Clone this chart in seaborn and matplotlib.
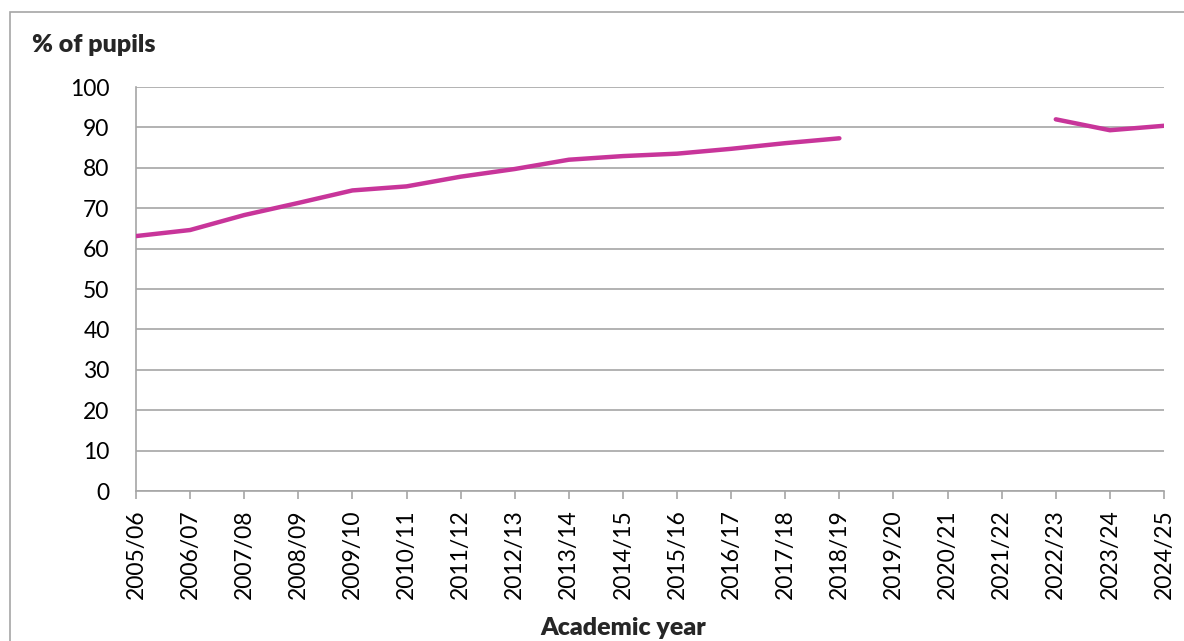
import numpy as np
import pandas as pd
import matplotlib
matplotlib.use("Agg")
import matplotlib.pyplot as plt
import seaborn as sns
from matplotlib.patches import Rectangle

# Data
years = ["2005/06", "2006/07", "2007/08", "2008/09", "2009/10", "2010/11",
         "2011/12", "2012/13", "2013/14", "2014/15", "2015/16", "2016/17",
         "2017/18", "2018/19", "2019/20", "2020/21", "2021/22", "2022/23",
         "2023/24", "2024/25"]
pct_pupils = [63.1, 64.6, 68.3, 71.3, 74.4, 75.4, 77.8, 79.7, 82.0, 82.9,
              83.5, 84.7, 86.1, 87.3, np.nan, np.nan, np.nan, 92.0, 89.3, 90.4]

LINE_COL = "#C8359A"
GRID_COL = "#A6A6A6"

df = pd.DataFrame({"year": years, "pct": pct_pupils})
df["pos"] = range(len(df))
# split into segments so the gap (no data) is kept
df["segment"] = df["pct"].isna().cumsum()
df = df.dropna()

sns.set_theme(style="white")
plt.rcParams["font.family"] = ["Lato", "DejaVu Sans"]

fig = plt.figure(figsize=(11.84, 6.41), dpi=100)
ax = fig.add_axes([136 / 1184, 1 - 491 / 641, (1164 - 136) / 1184, (491 - 87) / 641])

sns.lineplot(data=df, x="pos", y="pct", units="segment", estimator=None,
             color=LINE_COL, linewidth=3.2, ax=ax, zorder=3)

ax.set_xlim(0, len(years) - 1)
ax.set_ylim(0, 100)
ax.set_yticks(range(0, 101, 10))
ax.set_xticks(range(len(years)))
ax.set_xticklabels(years, rotation=90)
ax.yaxis.grid(True, color=GRID_COL, linewidth=1.2)
ax.set_axisbelow(True)

for side in ["top", "right"]:
    ax.spines[side].set_visible(False)
for side in ["left", "bottom"]:
    ax.spines[side].set_color(GRID_COL)
    ax.spines[side].set_linewidth(1.2)

ax.tick_params(axis="x", direction="out", length=6, width=1.2, color=GRID_COL,
               pad=7, labelsize=16.5, labelcolor="black", bottom=True)
ax.tick_params(axis="y", length=0, pad=19, labelsize=16.5, labelcolor="black")
ax.set_xlabel("")
ax.set_ylabel("")

fig.text(32 / 1184, 1 - 45 / 641, "% of pupils", fontsize=18, fontweight="heavy",
         ha="left", va="center")
fig.text(623 / 1184, 1 - 628 / 641, "Academic year", fontsize=18, fontweight="heavy",
         ha="center", va="center")

# chart frame (cropped at right and bottom like the reference)
fig.patches.append(Rectangle((10 / 1184, -0.1), 1.2, 1.1 - 12 / 641,
                             transform=fig.transFigure, fill=False,
                             edgecolor="#A6A6A6", linewidth=1.2))

fig.savefig("out.png", dpi=100)
